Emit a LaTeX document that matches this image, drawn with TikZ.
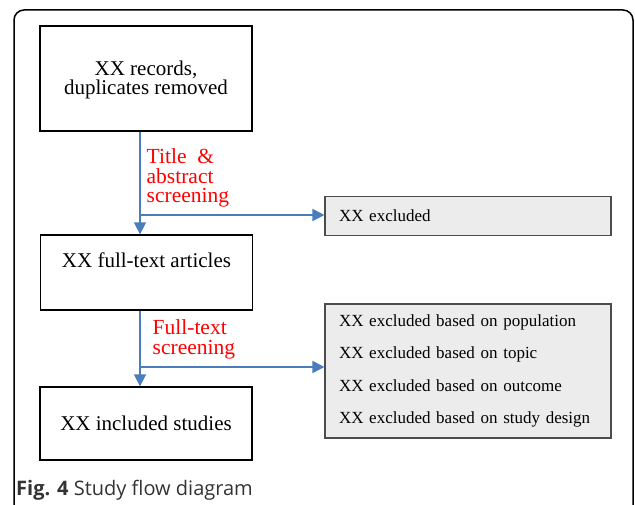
\documentclass[tikz,border=0pt]{standalone}
\usepackage{fontspec}
\setmainfont{Liberation Serif}
\newfontfamily\capfont{Open Sans}
\usepackage{tikz}
\usetikzlibrary{arrows.meta}
\usetikzlibrary{positioning}
\definecolor{flowblue}{RGB}{74,126,187}
\definecolor{exgray}{RGB}{236,236,236}
\tikzset{stage/.style={rectangle,draw=black,line width=1.3pt,minimum width=212pt,align=center,font=\fontsize{21}{15}\selectfont}}
\tikzset{excl/.style={rectangle,draw=black!70,fill=exgray,line width=1.1pt,minimum width=286pt,text width=258pt,inner xsep=14pt,align=left,font=\fontsize{17}{32.5}\selectfont}}
\tikzset{flow/.style={draw=flowblue,line width=1.6pt,-{Triangle[length=12pt,width=12pt]}}}
\tikzset{note/.style={text=red,inner sep=0pt,anchor=north west,align=left,font=\fontsize{21.5}{19.5}\selectfont}}

\begin{document}
\begin{tikzpicture}[x=1pt,y=-1pt]
\useasboundingbox (0,0) rectangle (635,505);
\draw[line width=1.5pt,rounded corners=10pt] (14,510) -- (14,10) -- (633,10) -- (633,510);

\node[stage,minimum height=105pt,text height=37pt] (rec) at (146,78.5) {XX records,\\duplicates removed};
\node[stage,minimum height=75pt,text depth=24pt] (ft) at (146.5,272.5) {XX full-text articles};
\node[stage,minimum height=73pt] (inc) at (146,423.5) {XX included studies};

\node[excl,minimum height=39pt] (exA) at (468,216) {XX excluded};
\node[excl,minimum height=134pt] (exB) at (468,371) {XX excluded based on population\\
XX excluded based on topic\\
XX excluded based on outcome\\
XX excluded based on study design};

\coordinate (tj) at (140,215);
\coordinate (fj) at (140,367);

\draw[flow] (rec.south -| tj) -- (ft.north -| tj);
\draw[flow] (tj) -- (exA.west |- tj);
\node[note] (ta) at (146.5,148.5) {Title~~\&\\abstract\\screening};

\draw[flow] (ft.south -| fj) -- (inc.north -| fj);
\draw[flow] (fj) -- (exB.west |- fj);
\node[note] (fs) at (152.5,319.5) {Full-text\\screening};

%\node[below=of inc] {};
\node[anchor=west,inner sep=0pt,text=black!80,font=\capfont\fontsize{20}{21}\selectfont] (cap) at (16,490) {\textbf{Fig. 4} Study flow diagram};
\end{tikzpicture}
\end{document}
